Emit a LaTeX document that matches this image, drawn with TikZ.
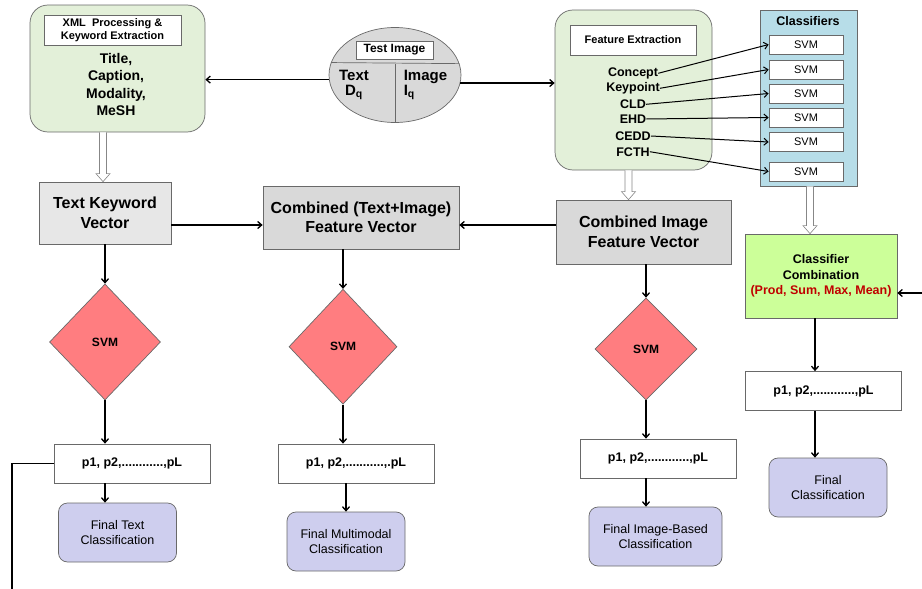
\documentclass[tikz,border=0pt]{standalone}
\usepackage{fontspec}
\setmainfont{Liberation Sans}
\usetikzlibrary{shapes.geometric,arrows.meta,positioning,calc}

\definecolor{palegreen}{RGB}{227,240,217}
\definecolor{limegreen}{RGB}{204,255,153}
\definecolor{paleblue}{RGB}{183,221,232}
\definecolor{boxgray}{RGB}{217,217,217}
\definecolor{lightgray}{RGB}{231,231,231}
\definecolor{salmon}{RGB}{255,125,128}
\definecolor{lavender}{RGB}{206,206,238}
\definecolor{darkred}{RGB}{192,0,0}
\definecolor{rimgray}{RGB}{105,105,105}

\tikzset{
  panel/.style={draw=rimgray, line width=0.7pt, rounded corners=18pt, fill=palegreen, inner sep=0pt},
  titlebox/.style={draw=rimgray, line width=0.7pt, fill=white, inner sep=0pt, align=center, font=\fontsize{11}{13}\selectfont\bfseries},
  vecbox/.style={draw=rimgray, line width=0.7pt, fill=boxgray, align=center, inner sep=0pt, font=\fontsize{16}{19.5}\selectfont\bfseries},
  probbox/.style={draw=rimgray, line width=0.7pt, fill=white, minimum width=156pt, minimum height=39pt, inner sep=0pt, font=\fontsize{12.5}{14}\selectfont\bfseries},
  finalbox/.style={draw=rimgray, line width=0.7pt, fill=lavender, rounded corners=9pt, minimum width=118pt, minimum height=59pt, align=center, inner sep=0pt, font=\fontsize{12.5}{14.7}\selectfont},
  svmdia/.style={diamond, draw=rimgray, line width=0.7pt, fill=salmon, inner sep=0pt, font=\fontsize{12}{14}\selectfont\bfseries},
  svmbox/.style={draw=rimgray, line width=0.7pt, fill=white, minimum width=74pt, minimum height=19pt, inner sep=0pt, font=\fontsize{11}{13}\selectfont},
  feat/.style={inner sep=0pt, font=\fontsize{12.5}{15}\selectfont\bfseries},
  arr/.style={draw=black, line width=1.3pt, -{Straight Barb[length=4pt,width=7pt]}},
  hollow/.style={draw=rimgray!80, fill=white, line width=0.6pt, to path={
    let \p1=(\tikztostart), \p2=(\tikztotarget) in
    (\x1-3.5pt,\y1) -- (\x1-3.5pt,\y2+8pt) -- (\x1-7pt,\y2+8pt) -- (\x1,\y2)
    -- (\x1+7pt,\y2+8pt) -- (\x1+3.5pt,\y2+8pt) -- (\x1+3.5pt,\y1)}}
}

\begin{document}
\begin{tikzpicture}[x=1pt,y=-1pt]
\useasboundingbox (0,0) rectangle (922,589);

% text side and query
\node (xml) at (117.5,68.5) [panel, minimum width=175pt, minimum height=127pt] {};
\node (xmlt) at (112.5,30.5) [titlebox, minimum width=137pt, minimum height=30pt, font=\fontsize{11}{13}\selectfont\bfseries] {XML~~Processing \&\\Keyword Extraction};
\node (meta) at (116,84.5) [align=center, font=\fontsize{14}{17.5}\selectfont\bfseries] {Title,\\Caption,\\Modality,\\MeSH};

\node (ti) at (395,75) [ellipse, draw=rimgray, line width=0.7pt, fill=boxgray, minimum width=132pt, minimum height=95pt, inner sep=0pt] {};
\node (tit) at (394.5,50) [titlebox, minimum width=77pt, minimum height=18pt, font=\fontsize{12}{14}\selectfont\bfseries] {Test Image};
\draw[rimgray, line width=0.7pt] (ti.169.4) -- (ti.10.6);
\draw[rimgray, line width=0.7pt] (ti.south) -- (ti.south |- ti.10.6);
\node (tq) at (354,85) [align=center, font=\fontsize{15}{15}\selectfont\bfseries] {Text\\D\textsubscript{q}};
\node (iq) at (425.5,85) [align=left, font=\fontsize{15}{15}\selectfont\bfseries] {Image\\I\textsubscript{q}};

% image side
\node (fe) at (633.5,90) [panel, minimum width=157pt, minimum height=160pt] {};
\node (fet) at (633,40) [titlebox, minimum width=126pt, minimum height=30pt] {Feature Extraction};
\foreach \lab/\y [count=\i] in {Concept/73.3,Keypoint/88.3,CLD/104.3,EHD/119,CEDD/136,FCTH/151.7}
  \node (f\i) at (633,\y) [feat] {\lab};

\node (cls) at (808.5,98) [draw=rimgray, line width=0.7pt, fill=paleblue, minimum width=97pt, minimum height=176pt, inner sep=0pt] {};
\node (clst) at (808,20.7) [font=\fontsize{12.5}{14}\selectfont\bfseries] {Classifiers};
\foreach \y [count=\i] in {44.5,69.5,93.5,117.5,142,171.5}
  \node (s\i) at (806,\y) [svmbox] {SVM};
\foreach \i in {1,...,6}
  \draw[arr, line width=1pt] (f\i.east) -- (s\i.west);

% vectors
\node (tkv) at (105,213) [vecbox, fill=lightgray, minimum width=132pt, minimum height=62pt] {Text Keyword\\Vector};
\node (cti) at (361,217.5) [vecbox, minimum width=196pt, minimum height=63pt] {Combined (Text+Image)\\Feature Vector};
\node (cifv) at (643.5,232) [vecbox, minimum width=175pt, minimum height=64pt] {Combined Image\\Feature Vector};
\node (cc) at (821,276) [draw=rimgray, line width=0.7pt, fill=limegreen, minimum width=152pt, minimum height=84pt, align=center, inner sep=0pt, font=\fontsize{12.5}{15.7}\selectfont\bfseries] {Classifier\\Combination\\\textcolor{darkred}{(Prod, Sum, Max, Mean)}};

% classifiers
\node (d1) at (105,342) [svmdia, minimum width=111pt, minimum height=116pt] {SVM};
\node (d2) at (343,346.7) [svmdia, minimum width=108pt, minimum height=115pt] {SVM};
\node (d3) at (646,349) [svmdia, minimum width=102pt, minimum height=102pt] {SVM};

\node (p1) at (132,463.5) [probbox] {p1, p2,............,pL};
\node (p2) at (356,463.5) [probbox] {p1, p2,...........,.pL};
\node (p3) at (658,458.5) [probbox] {p1, p2,............,pL};
\node (p4) at (823.5,391) [probbox] {p1, p2,............,pL};

\node (r1) at (117.5,532.5) [finalbox] {Final Text\\Classification};
\node (r2) at (346,541.5) [finalbox] {Final Multimodal\\Classification};
\node (r3) at (655.5,536.5) [finalbox, minimum width=133pt] {Final Image-Based\\Classification};
\node (r4) at (828,487.5) [finalbox] {Final\\Classification};

% connectors
\draw[arr] (ti.184) -- (ti.184 -| xml.east);
\draw[arr] (ti.-7) -- (ti.-7 -| fe.west);

\draw[hollow] ([xshift=-2pt]tkv.north |- xml.south) to (tkv.north);
\draw[hollow] ([xshift=-5pt]fe.south) to (cifv.north);
\draw[hollow] ([xshift=1.5pt]cls.south) to (cc.north);

\coordinate (mid) at (0,225);
\draw[arr] (tkv.east |- mid) -- (cti.west |- mid);
\draw[arr] (cifv.west |- mid) -- (cti.east |- mid);

\draw[arr] (tkv.south -| d1) -- (d1.north);
\draw[arr] (cti.south -| d2) -- (d2.north);
\draw[arr] (cifv.south -| d3) -- (d3.north);
\draw[arr] (d1.south) -- (d1.south |- p1.north);
\draw[arr] (d2.south) -- (d2.south |- p2.north);
\draw[arr] (d3.south) -- (d3.south |- p3.north);
\draw[arr] (p1.south -| d1) -- (r1.north -| d1);
\draw[arr] (p2.south -| r2) -- (r2.north);
\draw[arr] (p3.south -| d3) -- (r3.north -| d3);

\coordinate (col4) at (815,0);
\draw[arr] (cc.south -| col4) -- (p4.north -| col4);
\draw[arr] (p4.south -| col4) -- (r4.north -| col4);

\coordinate (loopl) at (12,589);
\coordinate (loopr) at (922,293);
\draw[line width=1.3pt] (p1.west) -| (loopl);
\draw[arr] (loopr) -- (cc.east |- loopr);
\end{tikzpicture}
\end{document}
